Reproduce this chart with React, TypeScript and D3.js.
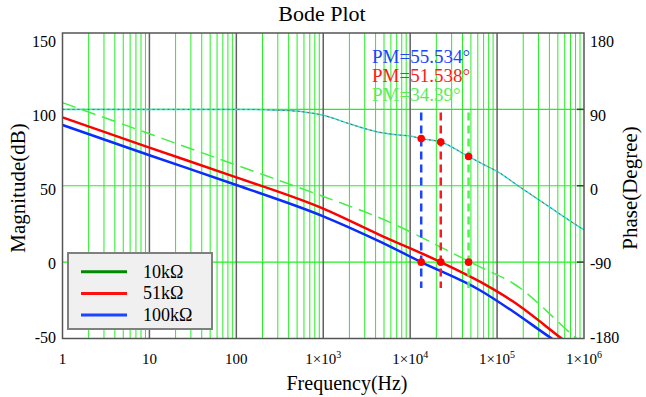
import React from "react";
import * as d3 from "d3";

// ---- data ----
const freqBlue = [1, 10, 100, 1000, 4500, 13400, 63500, 150000, 425000, 700000];
const magBlue = [89.8, 70, 50.5, 30, 13.4, 0, -18.4, -32, -50, -58];
const freqRed = [1, 10, 100, 1000, 4500, 22500, 63500, 150000, 553000, 800000];
const magRed = [94.8, 75, 55.5, 35, 17.7, 0, -12.8, -25.5, -50, -57];
const freqGreen = [1, 10, 100, 1000, 4500, 47000, 63500, 154000, 822000, 1000000];
const magGreen = [104.4, 84, 63.5, 43, 28.9, 0.6, -3.1, -14, -50, -54];
const freqPhase = [1, 100, 300, 600, 1000, 2000, 4000, 7000, 10000, 13400, 22500, 47000, 70000, 100000, 180000, 400000, 900000, 1000000];
const phasePM = [90, 90, 89, 87, 83, 73, 64, 60, 58.5, 55.5, 51.5, 34.4, 25, 17, -1, -25, -49, -52];
const pmFreqs = [13400, 22500, 47000];
const pmLabels = ["PM=55.534°", "PM=51.538°", "PM=34.39°"];
const pmValues = [55.534, 51.538, 34.39];
const legendLabels = ["10kΩ", "51kΩ", "100kΩ"];
const magTicks = [150, 100, 50, 0, -50];
const phaseTicks = [180, 90, 0, -90, -180];
const decadeExps = [0, 1, 2, 3, 4, 5, 6];

const W = 646, H = 397;
const L = 62.5, R = 584, T = 33, B = 338.5;
const FONT = "'Liberation Serif', 'Times New Roman', serif";

export default function App() {
  const x = d3.scaleLog().domain([1, 1e6]).range([L, R]);
  const yM = d3.scaleLinear().domain([-50, 150]).range([B, T]);
  const yP = d3.scaleLinear().domain([-180, 180]).range([B, T]);
  // tick labels are laid out slightly inside the frame
  const yMLab = d3.scaleLinear().domain([-50, 150]).range([337, 41]);
  const yPLab = d3.scaleLinear().domain([-180, 180]).range([337, 41]);

  const mkLine = (fs: number[], vs: number[], ys: any) =>
    d3.line<number>().x((_, i) => x(fs[i])).y((v) => ys(v)).curve(d3.curveMonotoneX)(vs) || "";

  const minor: number[] = [];
  for (let e = 0; e < 6; e++) for (let m = 2; m <= 9; m++) minor.push(m * Math.pow(10, e));
  const decades = decadeExps.slice(1, 6).map((e) => Math.pow(10, e));

  const colors = ["#1a44ff", "#ff1a1a", "#55ee55"];
  const legendColors = ["#008a00", "#ff1010", "#1a44ff"];

  return (
    <svg width={W} height={H} style={{ position: "absolute", left: 0, top: 0, background: "#fff" }} fontFamily={FONT}>
      <defs>
        <clipPath id="plot">
          <rect x={L} y={T} width={R - L} height={B - T} />
        </clipPath>
      </defs>
      {/* grid */}
      {minor.map((f) => (
        <line key={"m" + f} x1={x(f)} x2={x(f)} y1={T} y2={B} stroke="#22f022" strokeWidth={1} />
      ))}
      {[100, 50, 0].map((v) => (
        <line key={"h" + v} x1={L} x2={R} y1={yM(v)} y2={yM(v)} stroke="#22f022" strokeWidth={1.2} />
      ))}
      {decades.map((f) => (
        <line key={"d" + f} x1={x(f)} x2={x(f)} y1={T} y2={B} stroke="#606060" strokeWidth={1.5} />
      ))}
      {/* right ticks */}
      {[90, 0, -90].map((v) => (
        <line key={"rt" + v} x1={R - 7} x2={R} y1={yP(v)} y2={yP(v)} stroke="#404040" strokeWidth={1.5} />
      ))}
      <g clipPath="url(#plot)">
        {/* phase */}
        <path d={mkLine(freqPhase, phasePM, yP)} fill="none" stroke="#33e0e0" strokeWidth={1.5} />
        <path d={mkLine(freqPhase, phasePM, yP)} fill="none" stroke="#a0522d" strokeWidth={1} strokeDasharray="2,3" />
        {/* magnitudes */}
        <path d={mkLine(freqGreen, magGreen, yM)} fill="none" stroke="#44ee44" strokeWidth={1.5} strokeDasharray="14,7" />
        <path d={mkLine(freqRed, magRed, yM)} fill="none" stroke="#ff0000" strokeWidth={2.5} />
        <path d={mkLine(freqBlue, magBlue, yM)} fill="none" stroke="#0a2cff" strokeWidth={2.5} />
        {/* PM dashed lines */}
        {pmFreqs.map((f, i) => (
          <line key={"pm" + i} x1={x(f)} x2={x(f)} y1={yM(98)} y2={yM(-17)} stroke={colors[i]} strokeWidth={2.5} strokeDasharray="8,5" />
        ))}
        {pmFreqs.map((f, i) => (
          <g key={"mk" + i}>
            <circle cx={x(f)} cy={yP(pmValues[i])} r={3.8} fill="#ff0000" />
            <circle cx={x(f)} cy={yM(0)} r={3.8} fill="#ff0000" />
          </g>
        ))}
      </g>
      {/* frame */}
      <rect x={L} y={T} width={R - L} height={B - T} fill="none" stroke="#555" strokeWidth={1.5} />
      {/* PM labels */}
      {pmLabels.map((t, i) => (
        <text key={"pl" + i} x={372} y={63 + i * 19} fontSize={19} fill={colors[i]}>{t}</text>
      ))}
      {/* left ticks */}
      {magTicks.map((v) => (
        <text key={"lt" + v} x={56} y={yMLab(v) + 5.5} fontSize={16} textAnchor="end" fill="#000">{v}</text>
      ))}
      {phaseTicks.map((v) => (
        <text key={"pt" + v} x={590} y={yPLab(v) + 5.5} fontSize={16} textAnchor="start" fill="#000">{v}</text>
      ))}
      {/* x ticks */}
      {decadeExps.map((e) => (
        <text key={"xt" + e} x={x(Math.pow(10, e))} y={364} fontSize={15} textAnchor="middle" fill="#000">
          {e <= 2 ? String(Math.pow(10, e)) : (
            <>
              {"1×10"}
              <tspan fontSize={10} dy={-6}>{e}</tspan>
            </>
          )}
        </text>
      ))}
      {/* titles */}
      <text x={322} y={21} fontSize={22} textAnchor="middle" fill="#000">Bode Plot</text>
      <text x={347} y={390} fontSize={20} textAnchor="middle" fill="#000">Frequency(Hz)</text>
      <text transform={`translate(25,188) rotate(-90)`} fontSize={21} textAnchor="middle" fill="#000">Magnitude(dB)</text>
      <text transform={`translate(637,188) rotate(-90)`} fontSize={21} textAnchor="middle" fill="#000">Phase(Degree)</text>
      {/* legend */}
      <rect x={68} y={253} width={144} height={76} fill="#f0f0f0" stroke="#808080" strokeWidth={2} />
      {legendLabels.map((t, i) => (
        <g key={"lg" + i}>
          <line x1={81} x2={127} y1={271.7 + i * 21.7} y2={271.7 + i * 21.7} stroke={legendColors[i]} strokeWidth={3} />
          <text x={143} y={277.5 + i * 21.7} fontSize={18} fill="#000">{t}</text>
        </g>
      ))}
    </svg>
  );
}
